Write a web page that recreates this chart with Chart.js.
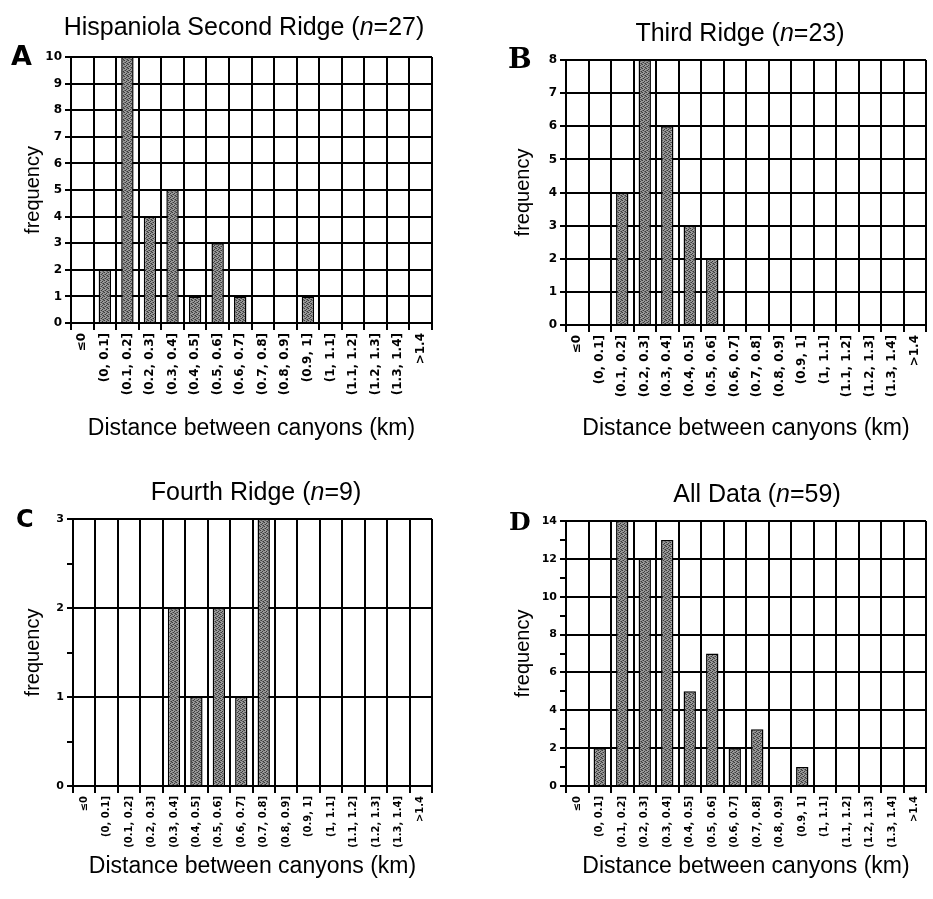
<!DOCTYPE html>
<html><head><meta charset="utf-8">
<script src="https://cdn.jsdelivr.net/npm/chart.js@4"></script>
<style>
html,body{margin:0;padding:0;background:#fff;}
#wrap{position:relative;width:933px;height:899px;background:#fff;}
.panel{position:absolute;}
</style></head><body>
<div id="wrap">
<div class="panel" style="left:0;top:0;width:466px;height:450px"><canvas id="c0"></canvas></div>
<div class="panel" style="left:466px;top:0;width:467px;height:450px"><canvas id="c1"></canvas></div>
<div class="panel" style="left:0;top:450px;width:466px;height:449px"><canvas id="c2"></canvas></div>
<div class="panel" style="left:466px;top:450px;width:467px;height:449px"><canvas id="c3"></canvas></div>
</div>
<script>
// ---- data ----
const categories = ['≤0','(0, 0.1]','(0.1, 0.2]','(0.2, 0.3]','(0.3, 0.4]','(0.4, 0.5]','(0.5, 0.6]','(0.6, 0.7]','(0.7, 0.8]','(0.8, 0.9]','(0.9, 1]','(1, 1.1]','(1.1, 1.2]','(1.2, 1.3]','(1.3, 1.4]','>1.4'];
const secondRidge = [0,2,10,4,5,1,3,1,0,0,1,0,0,0,0,0];
const thirdRidge  = [0,0,4,8,6,3,2,0,0,0,0,0,0,0,0,0];
const fourthRidge = [0,0,0,0,2,1,2,1,3,0,0,0,0,0,0,0];
const allData     = [0,2,14,12,13,5,7,2,3,0,1,0,0,0,0,0];
const panelLetters = ['A','B','C','D'];
const panelTitles = ['Hispaniola Second Ridge','Third Ridge','Fourth Ridge','All Data'];
const sampleSizes = [27,23,9,59];
const yMax = [10,8,3,14];
const yStep = [1,1,0.5,1];
const yLabelEvery = [1,1,1,2];
const xAxisTitle = 'Distance between canyons (km)';
const yAxisTitle = 'frequency';
const seriesList = [secondRidge, thirdRidge, fourthRidge, allData];

// ---- layout / style ----
const layouts = [
  {w:466,h:450,pad:{left:17,top:57,right:34,bottom:4}, yW:54, xH:123, titleX:244, titleY:35, letterX:11, letterY:65, letterFont:'bold 27px "DejaVu Sans"', xt:12, yt:12},
  {w:467,h:450,pad:{left:41,top:60,right:7,bottom:4},  yW:59, xH:121, titleX:274, titleY:41, letterX:42, letterY:68, letterFont:'bold 28px "DejaVu Serif"', xt:12, yt:12},
  {w:466,h:449,pad:{left:17,top:69,right:34,bottom:15},yW:56, xH:98,  titleX:256, titleY:50, letterX:16, letterY:77, letterFont:'bold 24px "DejaVu Sans"', xt:10, yt:11},
  {w:467,h:449,pad:{left:41,top:71,right:7,bottom:15}, yW:59, xH:98,  titleX:291, titleY:52, letterX:43, letterY:80, letterFont:'bold 25px "DejaVu Serif"', xt:10, yt:11}
];

const panelText = {
  id:'panelText',
  afterDraw(chart, args, o){
    const ctx = chart.ctx;
    ctx.save();
    ctx.fillStyle = '#000';
    ctx.textBaseline = 'alphabetic';
    ctx.textAlign = 'left';
    const base = '25px "Liberation Sans"';
    const parts = [{t:o.title+' (',f:base},{t:'n',f:'italic '+base},{t:'='+o.n+')',f:base}];
    let total = 0;
    parts.forEach(p=>{ctx.font=p.f; p.w=ctx.measureText(p.t).width; total+=p.w;});
    let x = o.titleX - total/2;
    parts.forEach(p=>{ctx.font=p.f; ctx.fillText(p.t,x,o.titleY); x+=p.w;});
    ctx.font = o.letterFont;
    ctx.fillText(o.letter, o.letterX, o.letterY);
    ctx.restore();
  }
};

function stipple(ctx){
  const c = document.createElement('canvas');
  c.width = 4; c.height = 4;
  const g = c.getContext('2d');
  g.fillStyle = '#999999'; g.fillRect(0,0,4,4);
  g.fillStyle = '#3a3a3a';
  g.fillRect(0,0,1,1); g.fillRect(2,1,1,1); g.fillRect(1,2,1,1); g.fillRect(3,3,1,1);
  g.fillStyle = '#666666';
  g.fillRect(2,3,1,1); g.fillRect(0,2,1,1); g.fillRect(3,0,1,1);
  return ctx.createPattern(c,'repeat');
}

seriesList.forEach((series, i) => {
  const L = layouts[i];
  const canvas = document.getElementById('c'+i);
  const ctx = canvas.getContext('2d');
  const every = yLabelEvery[i];
  const isMajor = v => Math.abs(v/every - Math.round(v/every)) < 1e-9;
  new Chart(ctx, {
    type:'bar',
    data:{
      labels: categories,
      datasets:[{
        data: series,
        backgroundColor: stipple(ctx),
        borderColor:'#000',
        borderWidth: c => (c.raw === 0 ? 0 : 1.5),
        barPercentage:0.55,
        categoryPercentage:1
      }]
    },
    options:{
      responsive:true,
      maintainAspectRatio:false,
      animation:false,
      layout:{padding:L.pad},
      plugins:{
        legend:{display:false},
        tooltip:{enabled:false},
        title:{display:false},
        panelText:{title:panelTitles[i], n:sampleSizes[i], letter:panelLetters[i],
          titleX:L.titleX, titleY:L.titleY, letterX:L.letterX, letterY:L.letterY, letterFont:L.letterFont}
      },
      scales:{
        x:{
          offset:true,
          grid:{offset:true, color:'#000', lineWidth:2, tickLength:7, tickColor:'#000', drawTicks:true},
          border:{color:'#000', width:2},
          ticks:{autoSkip:false, minRotation:90, maxRotation:90, padding:3, color:'#000',
            font:{family:'"DejaVu Sans"', weight:'bold', size:L.xt}},
          title:{display:true, text:xAxisTitle, color:'#000', padding:{top:4,bottom:4},
            font:{family:'"Liberation Sans"', size:23}},
          afterFit: s => { s.height = L.xH; }
        },
        y:{
          min:0, max:yMax[i],
          grid:{color: c => (isMajor(c.tick.value) ? '#000' : 'rgba(0,0,0,0)'), lineWidth:2, tickLength:6, tickColor:'#000', drawTicks:true},
          border:{color:'#000', width:2},
          ticks:{stepSize:yStep[i], padding:3, color:'#000',
            font:{family:'"DejaVu Sans"', weight:'bold', size:L.yt},
            callback: v => (isMajor(v) ? String(v) : '')},
          title:{display:true, text:yAxisTitle, color:'#000', padding:{top:4,bottom:4},
            font:{family:'"Liberation Sans"', size:20}},
          afterFit: s => { s.width = L.yW; }
        }
      }
    },
    plugins:[panelText]
  });
});
</script>
</body></html>
